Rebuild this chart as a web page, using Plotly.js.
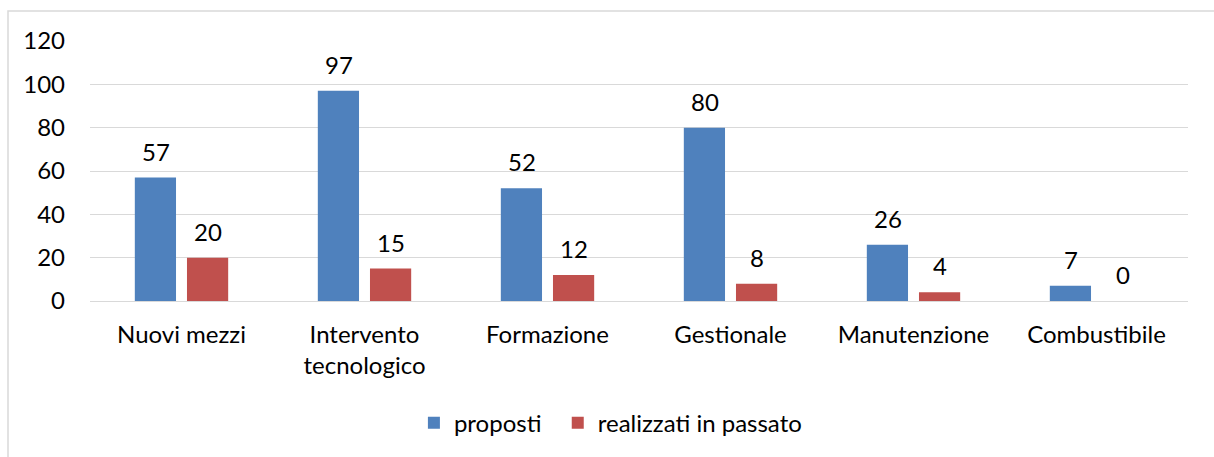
<!DOCTYPE html>
<html>
<head>
<meta charset="utf-8">
<script src="https://cdn.plot.ly/plotly-3.0.1.min.js"></script>
<style>html,body{margin:0;padding:0;background:#fff;}</style>
</head>
<body>
<div id="chart" style="width:1214px;height:457px;"></div>
<script>
const categories = ["Nuovi mezzi", "Intervento<br>tecnologico", "Formazione", "Gestionale", "Manutenzione", "Combustibile"];
const proposti = [57, 97, 52, 80, 26, 7];
const realizzati = [20, 15, 12, 8, 4, 0];
const seriesNames = ["proposti", "realizzati in passato"];
const yTicks = [0, 20, 40, 60, 80, 100, 120];

const FONT = "Lato, 'Liberation Sans', sans-serif";
const colors = ["#4F81BD", "#C0504D"];

const traces = [
  {type: "bar", x: categories, y: proposti, name: seriesNames[0], marker: {color: colors[0]}, hoverinfo: "skip", legend: "legend"},
  {type: "bar", x: categories, y: realizzati, name: seriesNames[1], marker: {color: colors[1]}, hoverinfo: "skip", legend: "legend2"}
];

const annotations = [];
[proposti, realizzati].forEach((vals, si) => {
  vals.forEach((v, i) => {
    annotations.push({
      x: categories[i], y: v, xref: "x", yref: "y",
      text: String(v), showarrow: false,
      xshift: si === 0 ? -26 : 26, yshift: 10, yanchor: "bottom",
      font: {family: FONT, size: 24, color: "#000"}
    });
  });
});

const legendBase = {orientation: "h", xanchor: "left", y: -0.383, yanchor: "top",
  font: {family: FONT, size: 24, color: "#000"}, itemwidth: 30, bgcolor: "rgba(0,0,0,0)"};

const layout = {
  width: 1214, height: 457,
  margin: {l: 90, r: 26, t: 41, b: 156},
  paper_bgcolor: "#fff", plot_bgcolor: "#fff",
  font: {family: FONT, size: 24, color: "#000"},
  barmode: "group", bargap: 0.43, bargroupgap: 0.21,
  showlegend: true,
  legend: Object.assign({}, legendBase, {x: 0.295}),
  legend2: Object.assign({}, legendBase, {x: 0.426}),
  xaxis: {type: "category", showgrid: false, showline: false, ticks: "", zeroline: false,
          tickfont: {family: FONT, size: 24}, ticklabelstandoff: 17},
  yaxis: {range: [0, 120], tickvals: yTicks, ticktext: yTicks.map(String), showgrid: true,
          gridcolor: "#D9D9D9", gridwidth: 1, zeroline: true, zerolinecolor: "#D9D9D9", zerolinewidth: 1,
          showline: false, ticks: "", ticklabelstandoff: 24, tickfont: {family: FONT, size: 24}},
  annotations: annotations,
  shapes: [{type: "rect", xref: "paper", yref: "paper",
            x0: (8 - 90) / 1098, x1: 1.2, y0: -0.8, y1: (301 - 11) / 260,
            line: {color: "#D9D9D9", width: 1.5}, fillcolor: "rgba(0,0,0,0)", layer: "below"}]
};

Plotly.newPlot("chart", traces, layout, {displayModeBar: false, staticPlot: true});
</script>
</body>
</html>
